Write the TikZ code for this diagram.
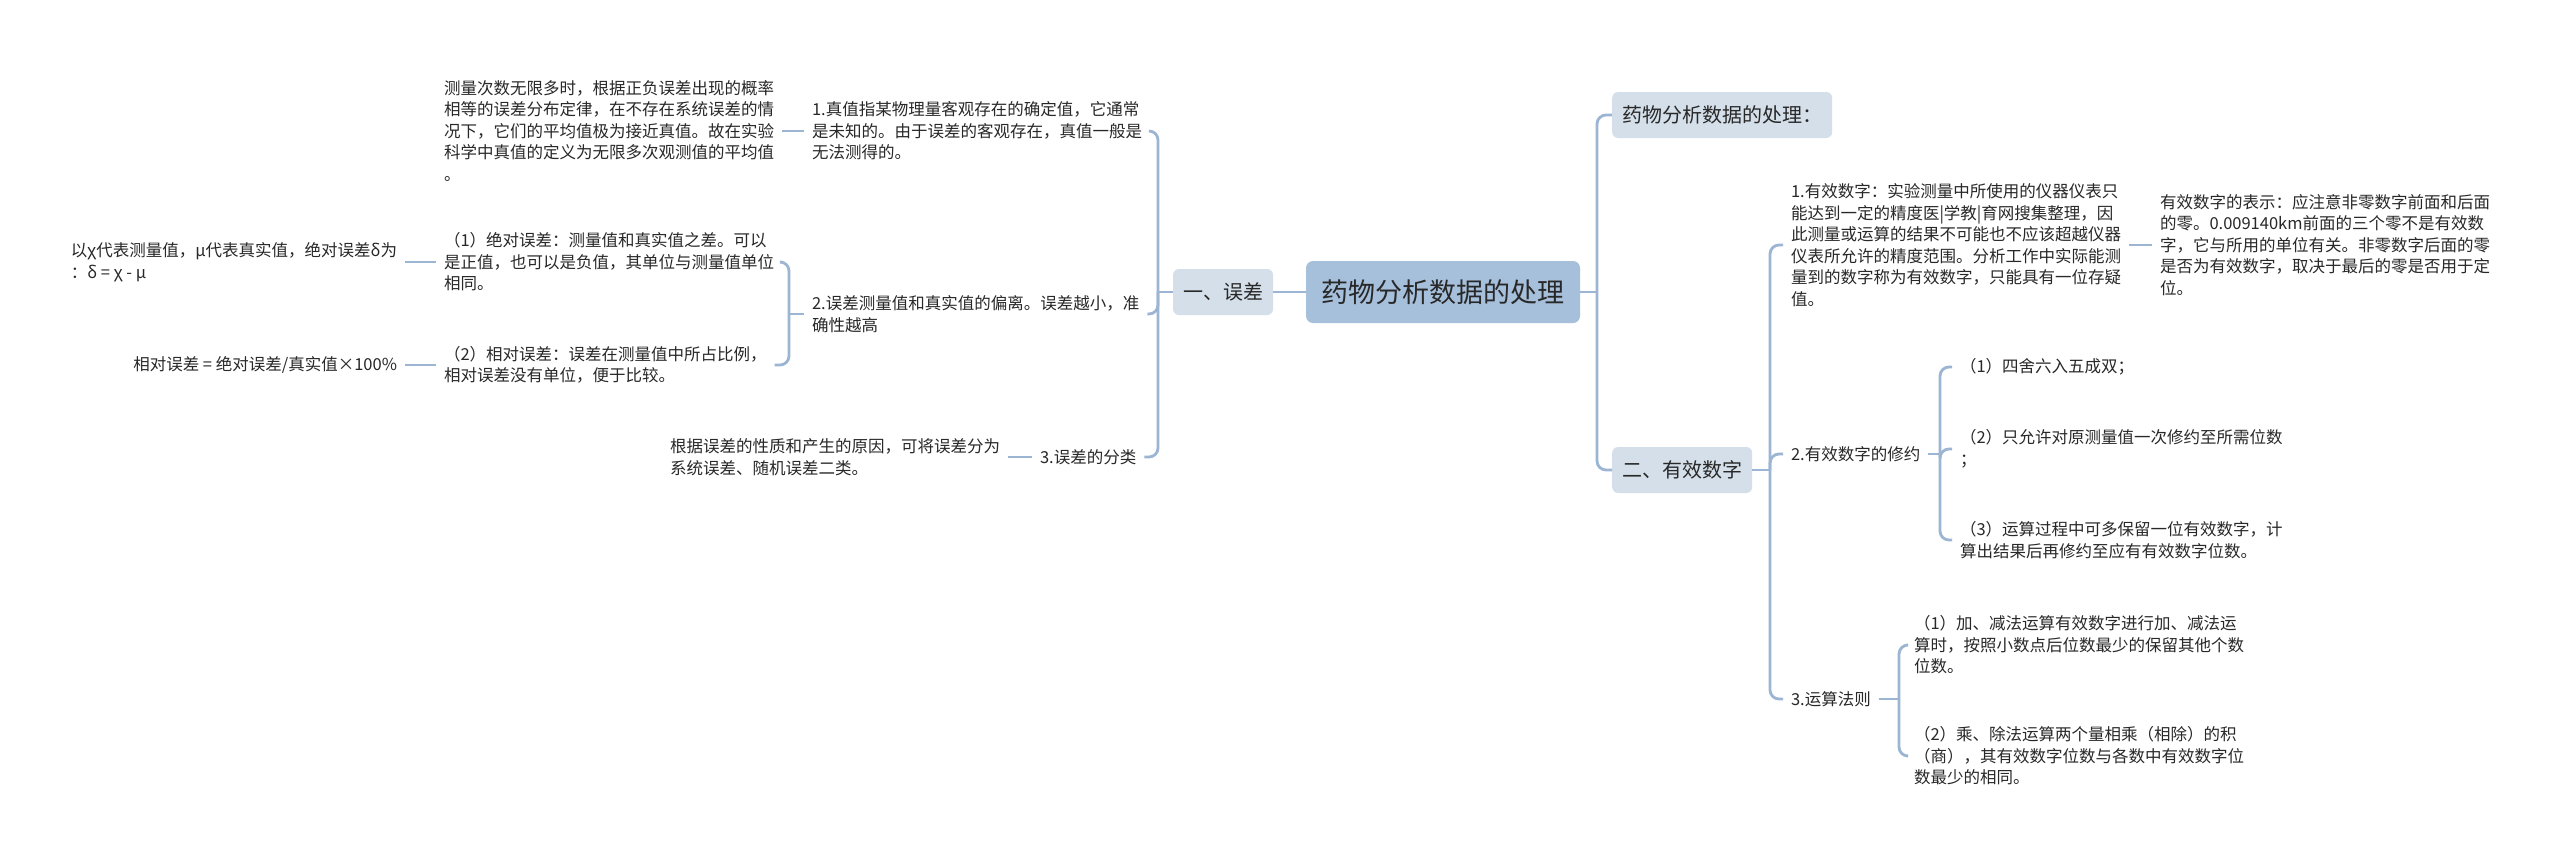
\documentclass[tikz,border=0pt]{standalone}
\usepackage{fontspec}
\setmainfont{Noto Sans CJK SC}
\definecolor{linec}{RGB}{156,181,210}
\definecolor{rootfill}{RGB}{166,192,220}
\definecolor{lonefill}{RGB}{212,223,233}
\definecolor{txt}{RGB}{40,40,40}
\begin{document}
\begin{tikzpicture}[x=1pt,y=-1pt,
  conn/.style={draw=linec, line width=2.8pt, rounded corners=9pt},
  stub/.style={draw=linec, line width=2.8pt},
  leaf/.style={inner xsep=0pt, inner ysep=2pt, outer xsep=8pt, align=left, text=txt, font=\fontsize{16.5}{21.5}\selectfont},
  rootbox/.style={fill=rootfill, rounded corners=7pt, minimum width=274pt, minimum height=62pt, font=\fontsize{27}{32}\selectfont, text=txt},
  topicbox/.style={fill=lonefill, rounded corners=6pt, minimum height=46pt, inner xsep=10pt, font=\fontsize{20}{24}\selectfont, text=txt}]
\useasboundingbox (0,0) rectangle (2560,863);
\fill[white] (0,0) rectangle (2560,863);

% bracket x positions
\coordinate (bxL) at (1158,0);
\coordinate (bxL2) at (789,0);
\coordinate (bxR) at (1597,0);
\coordinate (bxR2) at (1770,0);
\coordinate (bxR3) at (1940,0);
\coordinate (bxR4) at (1899,0);

% root and topics
\node[rootbox] (root) at (1443,292) {药物分析数据的处理};
\node[topicbox] (wc) at (1223,292) {一、误差};
\node[topicbox, anchor=west] (R1) at (1612,115) {药物分析数据的处理：};
\node[topicbox, anchor=west] (R2) at (1612,470) {二、有效数字};

% left side
\node[leaf, anchor=west] (C1) at (804,131) {1.真值指某物理量客观存在的确定值，它通常\\是未知的。由于误差的客观存在，真值一般是\\无法测得的。};
\node[leaf, anchor=west] (A) at (436,131) {测量次数无限多时，根据正负误差出现的概率\\相等的误差分布定律，在不存在系统误差的情\\况下，它们的平均值极为接近真值。故在实验\\科学中真值的定义为无限多次观测值的平均值\\。};
\node[leaf, anchor=west] (C2) at (804,314) {2.误差测量值和真实值的偏离。误差越小，准\\确性越高};
\node[leaf, anchor=west] (S1) at (436,262) {（1）绝对误差：测量值和真实值之差。可以\\是正值，也可以是负值，其单位与测量值单位\\相同。};
\node[leaf, anchor=east] (L1) at (405,262) {以χ代表测量值，μ代表真实值，绝对误差δ为\\：δ = χ - μ};
\node[leaf, anchor=west] (S2) at (436,365) {（2）相对误差：误差在测量值中所占比例，\\相对误差没有单位，便于比较。};
\node[leaf, anchor=east] (L2) at (405,365) {相对误差 = 绝对误差/真实值×100\%};
\node[leaf, anchor=west] (C3) at (1032,457) {3.误差的分类};
\node[leaf, anchor=west] (L3) at (662,457) {根据误差的性质和产生的原因，可将误差分为\\系统误差、随机误差二类。};

% right side
\node[leaf, anchor=west] (E1) at (1783,245) {1.有效数字：实验测量中所使用的仪器仪表只\\能达到一定的精度医|学教|育网搜集整理，因\\此测量或运算的结果不可能也不应该超越仪器\\仪表所允许的精度范围。分析工作中实际能测\\量到的数字称为有效数字，只能具有一位存疑\\值。};
\node[leaf, anchor=west] (E1a) at (2152,245) {有效数字的表示：应注意非零数字前面和后面\\的零。0.009140km前面的三个零不是有效数\\字，它与所用的单位有关。非零数字后面的零\\是否为有效数字，取决于最后的零是否用于定\\位。};
\node[leaf, anchor=west] (E2) at (1783,454) {2.有效数字的修约};
\node[leaf, anchor=west] (E2a) at (1952,367) {（1）四舍六入五成双；};
\node[leaf, anchor=west] (E2b) at (1952,449) {（2）只允许对原测量值一次修约至所需位数\\；};
\node[leaf, anchor=west] (E2c) at (1952,540) {（3）运算过程中可多保留一位有效数字，计\\算出结果后再修约至应有有效数字位数。};
\node[leaf, anchor=west] (E3) at (1783,699) {3.运算法则};
\node[leaf, anchor=west] (E3a) at (1906,645) {（1）加、减法运算有效数字进行加、减法运\\算时，按照小数点后位数最少的保留其他个数\\位数。};
\node[leaf, anchor=west] (E3b) at (1906,756) {（2）乘、除法运算两个量相乘（相除）的积\\（商），其有效数字位数与各数中有效数字位\\数最少的相同。};

% connectors left
\draw[stub] (root.west) -- (wc.east);
\draw[stub] (wc.west) -- (wc.west -| bxL);
\draw[conn] (wc.west -| bxL) |- (C1.east);
\draw[conn] (wc.west -| bxL) |- (C2.east);
\draw[conn] (wc.west -| bxL) |- (C3.east);
\draw[stub] (C1.west) -- (A.east);
\draw[stub] (C2.west) -- (C2.west -| bxL2);
\draw[conn] (C2.west -| bxL2) |- (S1.east);
\draw[conn] (C2.west -| bxL2) |- (S2.east);
\draw[stub] (S1.west) -- (L1.east);
\draw[stub] (S2.west) -- (L2.east);
\draw[stub] (C3.west) -- (L3.east);

% connectors right
\draw[stub] (root.east) -- (root.east -| bxR);
\draw[conn] (root.east -| bxR) |- (R1.west);
\draw[conn] (root.east -| bxR) |- (R2.west);
\draw[stub] (R2.east) -- (R2.east -| bxR2);
\draw[conn] (R2.east -| bxR2) |- (E1.west);
\draw[conn] (R2.east -| bxR2) |- (E2.west);
\draw[conn] (R2.east -| bxR2) |- (E3.west);
\draw[stub] (E1.east) -- (E1a.west);
\draw[stub] (E2.east) -- (E2.east -| bxR3);
\draw[conn] (E2.east -| bxR3) |- (E2a.west);
\draw[conn] (E2.east -| bxR3) |- (E2b.west);
\draw[conn] (E2.east -| bxR3) |- (E2c.west);
\draw[stub] (E3.east) -- (E3.east -| bxR4);
\draw[conn] (E3.east -| bxR4) |- (E3a.west);
\draw[conn] (E3.east -| bxR4) |- (E3b.west);
\end{tikzpicture}
\end{document}
